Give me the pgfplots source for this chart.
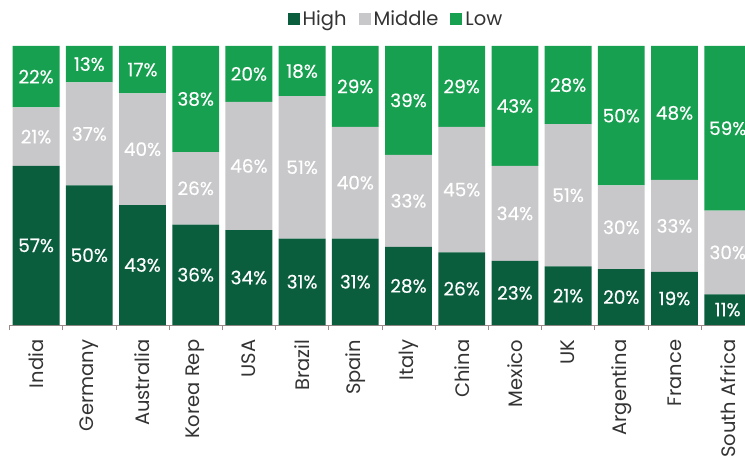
\documentclass[border=0pt]{standalone}
\usepackage{pgfplots}
\pgfplotsset{compat=1.18}
\usepackage{fontspec}
\setmainfont{Poppins}
\newfontfamily\labfont[FakeBold=0.4]{Poppins}
\definecolor{hi}{HTML}{0A5E3E}
\definecolor{mid}{HTML}{C8C8CA}
\definecolor{lo}{HTML}{17A050}
\definecolor{txt}{HTML}{333333}
\definecolor{axc}{HTML}{9C8A8A}
\pgfplotstableread{
x H M L
0 57 21 22
1 50 37 13
2 43 40 17
3 36 26 38
4 34 46 20
5 31 51 18
6 31 40 29
7 28 33 39
8 26 45 29
9 23 34 43
10 21 51 28
11 20 30 50
12 19 33 48
13 11 30 59
}\data
\begin{document}
\begin{tikzpicture}
\begin{axis}[
  at={(0,0)}, anchor=south west,
  scale only axis, width=735.5pt, height=279pt,
  xmin=-0.5, xmax=13.325, ymin=0, ymax=100,
  ybar stacked, bar width=0.88, 
  axis y line=none,
  axis x line*=bottom,
  x axis line style={axc, line width=0.8pt, -},
  xtick={0,...,13},
  xticklabels={India,Germany,Australia,Korea Rep,USA,Brazil,Spain,Italy,China,Mexico,UK,Argentina,France,South Africa},
  major x tick style={draw=none},
  minor xtick={-0.5,0.5,...,12.5},
  minor x tick style={axc, line width=0.8pt},
  minor tick length=5pt,
  xtick pos=bottom, tick align=outside,
  xticklabel style={rotate=90, anchor=east, font=\fontsize{19.5}{19.5}\selectfont, text=txt},
  xticklabel shift=7pt,
  visualization depends on=rawy \as \rawy,
  nodes near coords={\pgfmathprintnumber[assume math mode=true]{\rawy}\%},
  every node near coord/.style={font=\labfont\fontsize{18.5}{18.5}\selectfont, text=white, anchor=center},
  legend style={at={(axis description cs:0.5255,1)}, anchor=center, yshift=27pt, draw=none, fill=none,
    legend columns=-1, font=\fontsize{19.5}{19.5}\selectfont, text=txt, inner xsep=0pt,
    /tikz/every odd column/.append style={column sep=1pt},
    /tikz/every even column/.append style={column sep=10pt}},
  legend image code/.code={\fill[#1] (0pt,-6pt) rectangle (12pt,6pt);},
  clip=true,
]
\addplot+[draw=none, fill=hi] table[x=x, y=H] {\data};
\addplot+[draw=none, fill=mid] table[x=x, y=M] {\data};
\addplot+[draw=none, fill=lo] table[x=x, y=L] {\data};
\legend{High,Middle,Low}
\end{axis}
\pgfresetboundingbox
\path[use as bounding box] (-9.5pt,-141pt) rectangle (735.5pt,325pt);
\end{tikzpicture}
\end{document}
